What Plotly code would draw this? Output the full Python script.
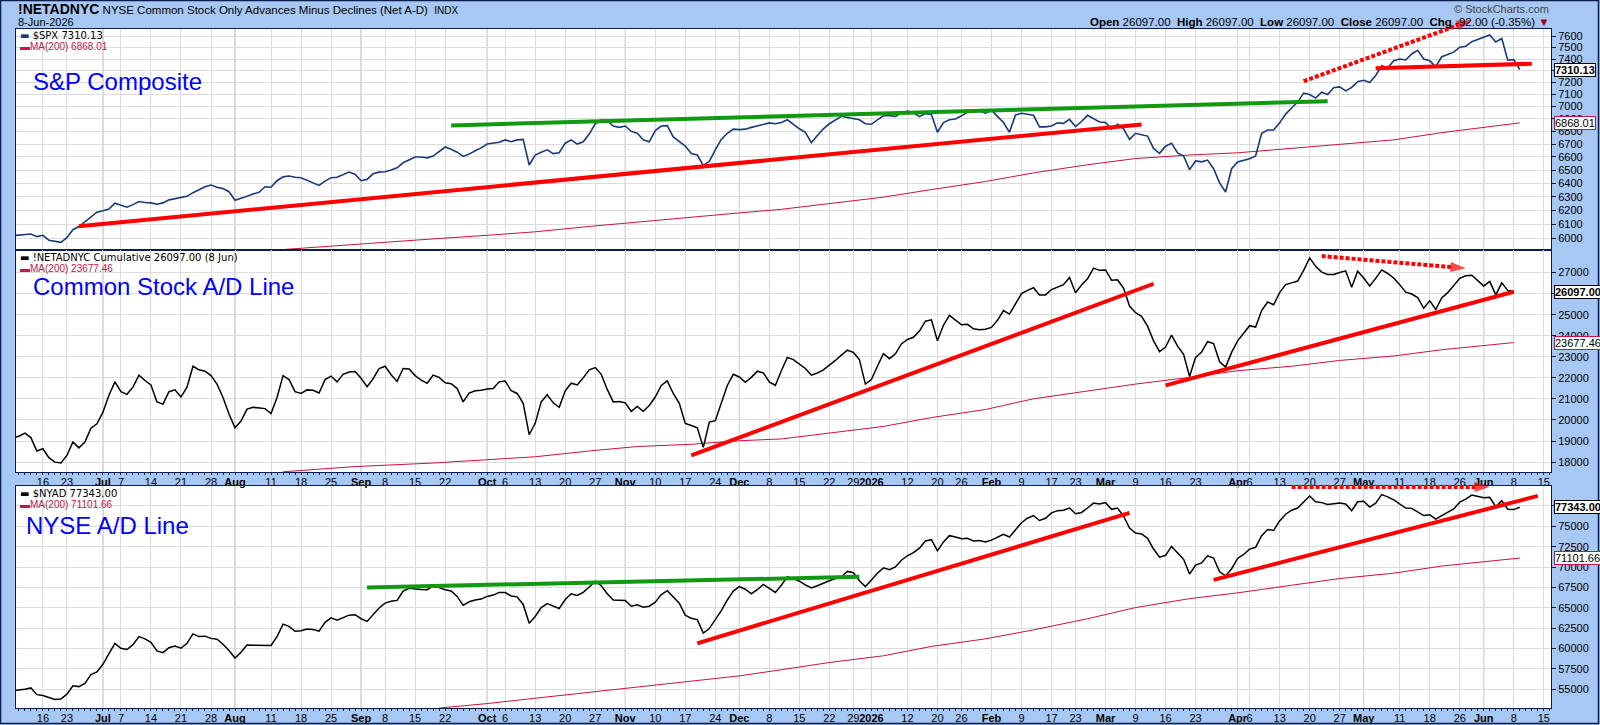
import math
import pandas as pd
import plotly.graph_objects as go

# ---------------- trading calendar ----------------
HOLIDAYS = ["2025-06-19", "2025-07-04", "2025-09-01", "2025-11-27", "2025-12-25",
            "2026-01-01", "2026-01-19", "2026-02-16", "2026-04-03", "2026-05-25"]
cal = [d.strftime("%Y-%m-%d") for d in pd.bdate_range("2025-06-09", "2026-06-19")
       if d.strftime("%Y-%m-%d") not in HOLIDAYS]
pos = {d: i for i, d in enumerate(cal)}

# ---------------- x tick labels ----------------
tick_dates = ["2025-06-16", "2025-06-23", "2025-07-01", "2025-07-07", "2025-07-14", "2025-07-21", "2025-07-28",
              "2025-08-01", "2025-08-11", "2025-08-18", "2025-08-25", "2025-09-02", "2025-09-08", "2025-09-15",
              "2025-09-22", "2025-10-01", "2025-10-06", "2025-10-13", "2025-10-20", "2025-10-27", "2025-11-03",
              "2025-11-10", "2025-11-17", "2025-11-24", "2025-12-01", "2025-12-08", "2025-12-15", "2025-12-22",
              "2025-12-29", "2026-01-02", "2026-01-12", "2026-01-20", "2026-01-26", "2026-02-02", "2026-02-09",
              "2026-02-17", "2026-02-23", "2026-03-02", "2026-03-09", "2026-03-16", "2026-03-23", "2026-04-01",
              "2026-04-06", "2026-04-13", "2026-04-20", "2026-04-27", "2026-05-01", "2026-05-11", "2026-05-18",
              "2026-05-26", "2026-06-01", "2026-06-08", "2026-06-15"]
tick_labels = ["16", "23", "Jul", "7", "14", "21", "28", "Aug", "11", "18", "25", "Sep", "8", "15", "22",
               "Oct", "6", "13", "20", "27", "Nov", "10", "17", "24", "Dec", "8", "15", "22", "29", "2026",
               "12", "20", "26", "Feb", "9", "17", "23", "Mar", "9", "16", "23", "Apr", "6", "13", "20", "27",
               "May", "11", "18", "26", "Jun", "8", "15"]
month_labels = ["Jul", "Aug", "Sep", "Oct", "Nov", "Dec", "2026", "Feb", "Mar", "Apr", "May", "Jun"]

# ---------------- series ----------------
spx_close = [
    6020,
    6025, 6031, 6031, 6013, 6022, 5988, 5982, 5973, 6006, 6062,
    6084, 6119, 6148, 6187, 6197, 6210, 6252, 6235, 6223, 6242,
    6265, 6258, 6255, 6245, 6255, 6277, 6287, 6293, 6303, 6330,
    6350, 6374, 6387, 6370, 6360, 6337, 6274, 6287, 6303, 6320,
    6333, 6374, 6370, 6419, 6448, 6455, 6445, 6442, 6422, 6403,
    6384, 6416, 6442, 6445, 6465, 6484, 6468, 6419, 6429, 6471,
    6484, 6487, 6500, 6517, 6555, 6579, 6600, 6600, 6593, 6607,
    6641, 6677, 6659, 6637, 6604, 6622, 6648, 6670, 6700, 6707,
    6715, 6733, 6718, 6733, 6737, 6538, 6615, 6637, 6655, 6626,
    6633, 6707, 6733, 6700, 6718, 6779, 6861, 6893, 6886, 6843,
    6832, 6843, 6800, 6785, 6733, 6718, 6807, 6843, 6846, 6756,
    6722, 6685, 6626, 6615, 6535, 6566, 6655, 6737, 6785, 6818,
    6814, 6818, 6832, 6843, 6857, 6868, 6861, 6871, 6893, 6857,
    6821,
    6793, 6711, 6767, 6821, 6861, 6893, 6921, 6911, 6904, 6893,
    6861, 6857, 6893, 6925, 6925, 6921, 6950, 6964, 6950, 6918,
    6943, 6936, 6793, 6871, 6893, 6900, 6925, 6954, 6961, 6964,
    6946, 6970, 6921, 6871, 6793, 6932, 6946, 6936, 6929, 6836,
    6836, 6843, 6868, 6864, 6896, 6839, 6879, 6929, 6900, 6875,
    6871, 6818, 6857, 6821, 6737, 6785, 6774, 6763, 6666, 6628,
    6683, 6707, 6631, 6607, 6503, 6569, 6562, 6576, 6510, 6403,
    6335, 6510, 6562, 6572, 6586, 6607, 6785, 6811, 6811, 6868,
    6939, 6989, 7037, 7111, 7100, 7070, 7119, 7100, 7156, 7163,
    7130, 7159, 7207, 7219, 7200, 7259, 7342, 7323, 7385, 7400,
    7392, 7444, 7476, 7400, 7385, 7335, 7420, 7440, 7460, 7504,
    7512, 7552, 7572, 7588, 7612, 7550, 7580, 7390, 7395,
    7310.13]

netad_close = [
    19150,
    19227, 19375, 19163, 18528, 18634, 18210, 17998, 17956, 18316, 18952,
    18676, 18952, 19608, 19820, 20371, 21175, 21811, 21345, 21218, 21557,
    22129, 21874, 21663, 20858, 20752, 21345, 21430, 21091, 21557, 22552,
    22383, 22319, 22107, 21705, 21070, 20286, 19629, 19947, 20519, 20604,
    20562, 20541, 20307, 21070, 22107, 21917, 21345, 21260, 21430, 21409,
    21281, 21917, 22086, 21811, 22171, 22277, 22298, 21980, 21578, 21959,
    22446, 22552, 22150, 21832, 22446, 22420, 22107, 21896, 21747, 22129,
    22023, 21769, 21726, 21493, 20858, 21281, 21387, 21409, 21472, 21493,
    21811, 21853, 21387, 21260, 20794, 19300, 19841, 20858, 21197, 20815,
    20604, 21387, 21747, 21663, 22002, 22383, 22489, 22171, 21451, 20858,
    20879, 20815, 20413, 20646, 20413, 20688, 21091, 21641, 21853, 21260,
    20794, 19841, 19735, 19629, 18700, 19900, 19968, 20858, 21641, 22171,
    22044, 21790, 22023, 22319, 22234, 21811, 21641, 22340, 22976, 22870,
    22679,
    22446, 22129, 22234, 22383, 22595, 22828, 23082, 23315, 23209, 22870,
    21705, 21917, 22552, 23145, 22912, 23145, 23611, 23823, 23929, 24225,
    24691, 24755, 23760, 24501, 24967, 24755, 24522, 24543, 24331, 24289,
    24310, 24395, 24734, 25200, 25030, 25517, 26005, 26153, 26280, 25941,
    25941, 26195, 26301, 26428, 26767, 26047, 26407, 26703, 27212, 27106,
    27127, 26640, 26661, 26259, 25411, 25094, 24924, 24458, 23759, 23251,
    23463, 24035, 23505, 23124, 22065, 22976, 23230, 23717, 23632, 22764,
    22510, 23209, 23759, 24120, 24480, 24416, 25200, 25602, 25475, 26047,
    26428, 26513, 26598, 27106, 27699, 27297, 27021, 26915, 26915, 27000,
    27085, 26301, 27064, 26746, 26365, 26725, 27127, 26958, 26746, 26428,
    26068, 25983, 25814, 25306, 25666, 25242, 25793, 26047, 26365, 26725,
    26852, 26873, 26620, 26365, 26577, 25941, 26513, 26153,
    26097.00]

nyad_close = [
    54850,
    54892, 55002, 55166, 54344, 54235, 54015, 53741, 53796, 54399, 55440,
    55330, 55714, 56810, 57138, 58070, 59385, 60645, 60042, 59878, 60481,
    61467, 61193, 60755, 59714, 59494, 60097, 60316, 60042, 60645, 61796,
    61467, 61522, 61248, 61138, 60535, 59768, 58837, 59549, 60426, 60410,
    60380, 60350, 60371, 61467, 63001, 62727, 62124, 62179, 62398, 62344,
    62124, 63220, 63768, 63494, 63823, 64097, 64152, 63658, 63330, 64097,
    64973, 65576, 65795, 65905, 67055, 67384, 67275, 67250, 67220, 67658,
    67494, 67220, 67055, 66398, 65302, 65740, 65960, 66069, 66398, 66562,
    66891, 66870, 66453, 66343, 65412, 63111, 63932, 65028, 65521, 65193,
    64919, 66014, 66727, 66508, 66891, 67549, 68261, 67713, 66727, 65960,
    65960, 65900, 65193, 65357, 65083, 65193, 65686, 66617, 67110, 66398,
    65576, 64097, 63713, 63549, 61905, 62453, 63494, 64645, 65960, 67055,
    67603, 67275, 66727, 67220, 67877, 67329, 66891, 67768, 68809, 68590,
    68261,
    67823, 67439, 67713, 68042, 68316, 68590, 68809, 69466, 69302, 68316,
    67603, 68425, 69247, 69905, 69685, 70014, 70836, 71384, 71767, 72315,
    73192, 73356, 71987, 73082, 73849, 73685, 73466, 73521, 73192, 73247,
    73082, 73302, 73685, 74014, 73685, 74616, 75438, 75986, 76315, 75712,
    75986, 76644, 76918, 76972, 77246, 76534, 76698, 77246, 77849, 77740,
    77904, 77082, 77246, 76260, 74781, 74178, 74069, 73521, 72206, 71219,
    71439, 72534, 71767, 70946, 69137, 70233, 70507, 71384, 71110, 69411,
    68918, 69795, 71055, 71548, 72206, 72425, 73849, 74616, 74500, 75657,
    76479, 76972, 77246, 78013, 78726, 78013, 77904, 77685, 77740, 77849,
    77740, 76918, 78013, 78068, 77356, 77849, 78890, 78616, 78233, 77740,
    77246, 77200, 76808, 76315, 76425, 75877, 76315, 76753, 77137, 77959,
    78342, 78835, 78671, 78507, 78560, 77400, 78150, 77100, 77050,
    77343.00]

# 200-day moving averages (read at sparse dates)
ma_dates = ["2025-08-29", "2025-09-18", "2025-10-01", "2025-10-13", "2025-10-24", "2025-11-05",
            "2025-11-18", "2025-12-01", "2025-12-10", "2025-12-22", "2026-01-06", "2026-01-16",
            "2026-01-30", "2026-02-11", "2026-02-25", "2026-03-09", "2026-03-20", "2026-04-01",
            "2026-04-15", "2026-04-27", "2026-05-08", "2026-05-20"]
spx_ma_dates = ["2025-08-12"] + ma_dates + ["2026-06-03", "2026-06-09"]
spx_ma_vals = [5920, 5960, 5997, 6022, 6047, 6085, 6117, 6150, 6182, 6208, 6248, 6297, 6353,
               6413, 6478, 6540, 6588, 6615, 6632, 6666, 6700, 6733, 6790, 6844, 6868.01]
netad_ma_dates = ["2025-08-13"] + ma_dates + ["2026-06-08"]
netad_ma_vals = [17540, 17787, 17956, 18104, 18253, 18528, 18740, 18846, 19015, 19100, 19375,
                 19693, 20116, 20498, 21006, 21387, 21705, 22023, 22340, 22552, 22828, 23039,
                 23336, 23677.46]
nyad_ma_dates = ["2025-09-19"] + ma_dates[2:] + ["2026-06-09"]
nyad_ma_vals = [52700, 53248, 53906, 54618, 55330, 55988, 56645, 57400, 58289, 59111, 60261,
                61193, 62289, 63658, 65028, 66124, 66836, 67768, 68590, 69247, 70124, 71101.66]

# analyst trend lines (date, value pairs)
spx_red_long = (["2025-06-25", "2026-03-10"], [6087, 6855])
spx_green = (["2025-09-23", "2026-04-23"], [6848, 7044])
spx_red_short = (["2026-05-05", "2026-06-11"], [7322, 7360])
spx_arrow = (["2026-04-17", "2026-05-28"], [7211, 7744])
ad_red_1 = (["2025-11-18", "2026-03-12"], [18316, 26470])
ad_red_2 = (["2026-03-16", "2026-06-08"], [21641, 26089])
ad_arrow = (["2026-04-22", "2026-05-27"], [27784, 27204])
ny_green = (["2025-09-03", "2025-12-30"], [67494, 68809])
ny_red_1 = (["2025-11-19", "2026-03-06"], [60645, 76644])
ny_red_2 = (["2026-03-26", "2026-06-12"], [68425, 78726])
ny_arrow = (["2026-04-15", "2026-06-02"], [79822, 79822])

spx_ticks = [6000, 6100, 6200, 6300, 6400, 6500, 6600, 6700, 6800, 6900, 7000, 7100, 7200, 7300, 7400, 7500, 7600]
netad_ticks = [18000, 19000, 20000, 21000, 22000, 23000, 24000, 25000, 26000, 27000]
nyad_ticks = [55000, 57500, 60000, 62500, 65000, 67500, 70000, 72500, 75000, 77500]

# ---------------- styling / layout geometry ----------------
BG = "#a6c8f2"
NAVY = "#0c1c4c"
SPX_C = "#1a3a78"
MA_C = "#cc1144"
RED = "#ff0000"
GREEN = "#119911"
GRID = "#dcdcdc"
MGRID = "#ababab"
TXT_BLUE = "#0000ff"

W, H = 1600, 725
ML, MR, MT, MB = 16, 49, 0, 17
PW, PH = W - ML - MR, H - MT - MB
P1_TOP, P1_BOT = 29, 250
P2_TOP, P2_BOT = 250, 472
P3_TOP, P3_BOT = 486, 708

R1 = [3.7723, 3.8845]          # log10 range of panel 1
R2 = [17530, 28073]
R3 = [52706, 79945]
XR = [0.52, 256.2]


def px(x):
    return (x - ML) / PW


def py(y):
    return (H - MB - y) / PH


def dom(ytop, ybot):
    return [py(ybot), py(ytop)]


def extend_top(rng, top, bot, new_top):
    per = (rng[1] - rng[0]) / (bot - top)
    return [rng[0], rng[1] + (top - new_top) * per]


def xs(dates):
    return [pos[d] for d in dates]


fig = go.Figure()
panels = [("x", "y"), ("x2", "y2"), ("x3", "y3")]

# moving averages
for (xa, ya), (d, v) in zip(panels, [(spx_ma_dates, spx_ma_vals), (netad_ma_dates, netad_ma_vals),
                                     (nyad_ma_dates, nyad_ma_vals)]):
    fig.add_trace(go.Scatter(x=xs(d), y=v, mode="lines", line=dict(color=MA_C, width=1),
                             xaxis=xa, yaxis=ya, hoverinfo="skip"))

# main series
fig.add_trace(go.Scatter(x=xs(cal[:len(spx_close)]), y=spx_close, mode="lines",
                         line=dict(color=SPX_C, width=1.6), xaxis="x", yaxis="y"))
fig.add_trace(go.Scatter(x=xs(cal[:len(netad_close)]), y=netad_close, mode="lines",
                         line=dict(color="black", width=1.5), xaxis="x2", yaxis="y2"))
fig.add_trace(go.Scatter(x=xs(cal[:len(nyad_close)]), y=nyad_close, mode="lines",
                         line=dict(color="black", width=1.5), xaxis="x3", yaxis="y3"))

# trend lines
for (xa, ya), tl, col in [(panels[0], spx_red_long, RED), (panels[0], spx_green, GREEN),
                          (panels[0], spx_red_short, RED), (panels[1], ad_red_1, RED),
                          (panels[1], ad_red_2, RED), (panels[2], ny_green, GREEN),
                          (panels[2], ny_red_1, RED), (panels[2], ny_red_2, RED)]:
    fig.add_trace(go.Scatter(x=xs(tl[0]), y=tl[1], mode="lines", line=dict(color=col, width=4),
                             xaxis=xa, yaxis=ya, hoverinfo="skip"))

# dotted arrows (panel 1 and panel 3 arrows are drawn on hidden, taller copies of their axes
# so that the heads may run past the panel's top edge as in the original)
for (xa, ya), ar in [(("x4", "y4"), spx_arrow), (panels[1], ad_arrow), (("x5", "y5"), ny_arrow)]:
    fig.add_trace(go.Scatter(x=xs(ar[0]), y=ar[1], mode="lines+markers",
                             line=dict(color=RED, width=4, dash="4px,2px"),
                             marker=dict(symbol="arrow", size=[0, 16], angleref="previous", color=RED,
                                         line=dict(width=0)),
                             cliponaxis=False, xaxis=xa, yaxis=ya, hoverinfo="skip"))

# ---------------- axes ----------------
tickpos = xs(tick_dates)
ticktext = [f"<b>{t}</b>" if t in month_labels else t for t in tick_labels]
XFONT = dict(family="Liberation Sans Narrow, Arial Narrow, Liberation Sans, Arial", size=11, color="black")
xcommon = dict(range=XR, tickmode="array", tickvals=tickpos, ticktext=ticktext, tickangle=0,
               showgrid=True, gridcolor=GRID, gridwidth=1, zeroline=False, showline=True, linecolor=NAVY,
               linewidth=1, mirror=True, ticks="", tickfont=XFONT, fixedrange=True)
xminor = dict(tickmode="linear", tick0=0, dtick=1, ticks="outside", ticklen=2, tickcolor=NAVY, showgrid=False)
YFONT = dict(family="Liberation Sans, Arial", size=11, color="black")
ycommon = dict(side="right", showgrid=True, gridcolor=GRID, gridwidth=1, zeroline=False, showline=True,
               linecolor=NAVY, linewidth=1, mirror=True, ticks="outside", ticklen=4, tickcolor=NAVY,
               tickfont=YFONT, fixedrange=True, tickmode="array")
hidden = dict(visible=False, fixedrange=True)

fig.update_layout(
    width=W, height=H, margin=dict(l=ML, r=MR, t=MT, b=MB),
    paper_bgcolor=BG, plot_bgcolor="rgba(0,0,0,0)", showlegend=False,
    xaxis=dict(xcommon, anchor="y", showticklabels=False),
    xaxis2=dict(xcommon, anchor="y2", showticklabels=True, minor=xminor),
    xaxis3=dict(xcommon, anchor="y3", showticklabels=True, minor=xminor),
    yaxis=dict(ycommon, domain=dom(P1_TOP, P1_BOT), anchor="x", type="log", range=R1,
               tickvals=spx_ticks, ticktext=[str(v) for v in spx_ticks]),
    yaxis2=dict(ycommon, domain=dom(P2_TOP, P2_BOT), anchor="x2", range=R2,
                tickvals=netad_ticks, ticktext=[str(v) for v in netad_ticks]),
    yaxis3=dict(ycommon, domain=dom(P3_TOP, P3_BOT), anchor="x3", range=R3,
                tickvals=nyad_ticks, ticktext=[str(v) for v in nyad_ticks]),
    xaxis4=dict(hidden, range=XR, anchor="y4"),
    yaxis4=dict(hidden, type="log", domain=dom(0, P1_BOT), anchor="x4",
                range=extend_top(R1, P1_TOP, P1_BOT, 0)),
    xaxis5=dict(hidden, range=XR, anchor="y5"),
    yaxis5=dict(hidden, domain=dom(P2_BOT, P3_BOT), anchor="x5",
                range=extend_top(R3, P3_TOP, P3_BOT, P2_BOT)),
)

shapes = []
# white panel backgrounds (below grid)
for top, bot in [(P1_TOP, P1_BOT), (P2_TOP, P2_BOT), (P3_TOP, P3_BOT)]:
    shapes.append(dict(type="rect", xref="paper", yref="paper", x0=0, x1=1, y0=py(bot), y1=py(top),
                       fillcolor="white", line=dict(width=0), layer="below"))
# darker month grid lines
for xa, ya in panels:
    for d, lab in zip(tick_dates, tick_labels):
        if lab in month_labels:
            shapes.append(dict(type="line", xref=xa, yref=f"{ya} domain", x0=pos[d], x1=pos[d], y0=0, y1=1,
                               layer="below", line=dict(color=MGRID, width=1)))
# outer frame
shapes.append(dict(type="rect", xref="paper", yref="paper", x0=px(0.5), x1=px(1598.5), y0=py(723.5),
                   y1=py(0.5), line=dict(color=NAVY, width=1.5), fillcolor="rgba(0,0,0,0)", layer="above"))
fig.update_layout(shapes=shapes)

# ---------------- texts ----------------
ann = []
HF = "Liberation Sans, Arial"
ann.append(dict(x=px(16), y=py(9), xref="paper", yref="paper", xanchor="left", yanchor="middle", showarrow=False,
                text="<span style='font-size:14px'><b>!NETADNYC</b></span> NYSE Common Stock Only Advances Minus "
                     "Declines (Net A-D)\u00a0\u00a0<span style='font-size:10px'>INDX</span>",
                font=dict(family=HF, size=11.5, color="black")))
ann.append(dict(x=px(16), y=py(22), xref="paper", yref="paper", xanchor="left", yanchor="middle",
                showarrow=False, text="8-Jun-2026", font=dict(family=HF, size=11, color="black")))
ann.append(dict(x=px(1551), y=py(9), xref="paper", yref="paper", xanchor="right", yanchor="middle",
                showarrow=False, text="\u00a9 StockCharts.com", font=dict(family=HF, size=11, color="#444444")))
sp = "\u00a0\u00a0"
ann.append(dict(x=px(1552), y=py(22), xref="paper", yref="paper", xanchor="right", yanchor="middle",
                showarrow=False,
                text=f"<b>Open</b> 26097.00{sp}<b>High</b> 26097.00{sp}<b>Low</b> 26097.00{sp}"
                     f"<b>Close</b> 26097.00{sp}<b>Chg</b> -92.00 (-0.35%) "
                     f"<span style='color:#a00020'>\u25bc</span>",
                font=dict(family=HF, size=11.5, color="black")))

# big panel titles
for txt, x0, y0 in [("S&P Composite", 31, 81), ("Common Stock A/D Line", 31, 287), ("NYSE A/D Line", 24, 525)]:
    ann.append(dict(x=px(x0), y=py(y0), xref="paper", yref="paper", xanchor="left", yanchor="middle",
                    showarrow=False, text=txt, font=dict(family=HF, size=24, color=TXT_BLUE)))

# in-panel legends
LF1 = dict(family="DejaVu Sans, Verdana", size=10, color="black")
LF2 = dict(family=HF, size=10, color=MA_C)
for y1, t1, c1, y2, t2 in [(35, "$SPX 7310.13", SPX_C, 46.5, "MA(200) 6868.01"),
                           (257.5, "!NETADNYC Cumulative 26097.00 (8 Jun)", "black", 268.5, "MA(200) 23677.46"),
                           (493, "$NYAD 77343.00", "black", 504.5, "MA(200) 71101.66")]:
    ann.append(dict(x=px(18), y=py(y1), xref="paper", yref="paper", xanchor="left", yanchor="middle",
                    showarrow=False, text=f"<span style='color:{c1}'>\u25ac</span> {t1}", font=LF1))
    ann.append(dict(x=px(18), y=py(y2), xref="paper", yref="paper", xanchor="left", yanchor="middle",
                    showarrow=False, text=f"\u25ac{t2}", font=LF2))

# last-value boxes on the right axis
for ya, val, bold, col, logax in [("y", 7310.13, True, "black", True), ("y", 6868.01, False, MA_C, True),
                                  ("y2", 26097.00, True, "black", False), ("y2", 23677.46, False, MA_C, False),
                                  ("y3", 77343.00, True, "black", False), ("y3", 71101.66, False, MA_C, False)]:
    t = f"{val:.2f}"
    ann.append(dict(x=1, xref="paper", xanchor="left", xshift=3, y=math.log10(val) if logax else val, yref=ya,
                    yanchor="middle", showarrow=False, text=f"<b>{t}</b>" if bold else t,
                    font=dict(family=HF, size=11, color="black"), bgcolor="white", bordercolor=col,
                    borderwidth=1, borderpad=0))
fig.update_layout(annotations=ann)

fig.write_html("out.html")
